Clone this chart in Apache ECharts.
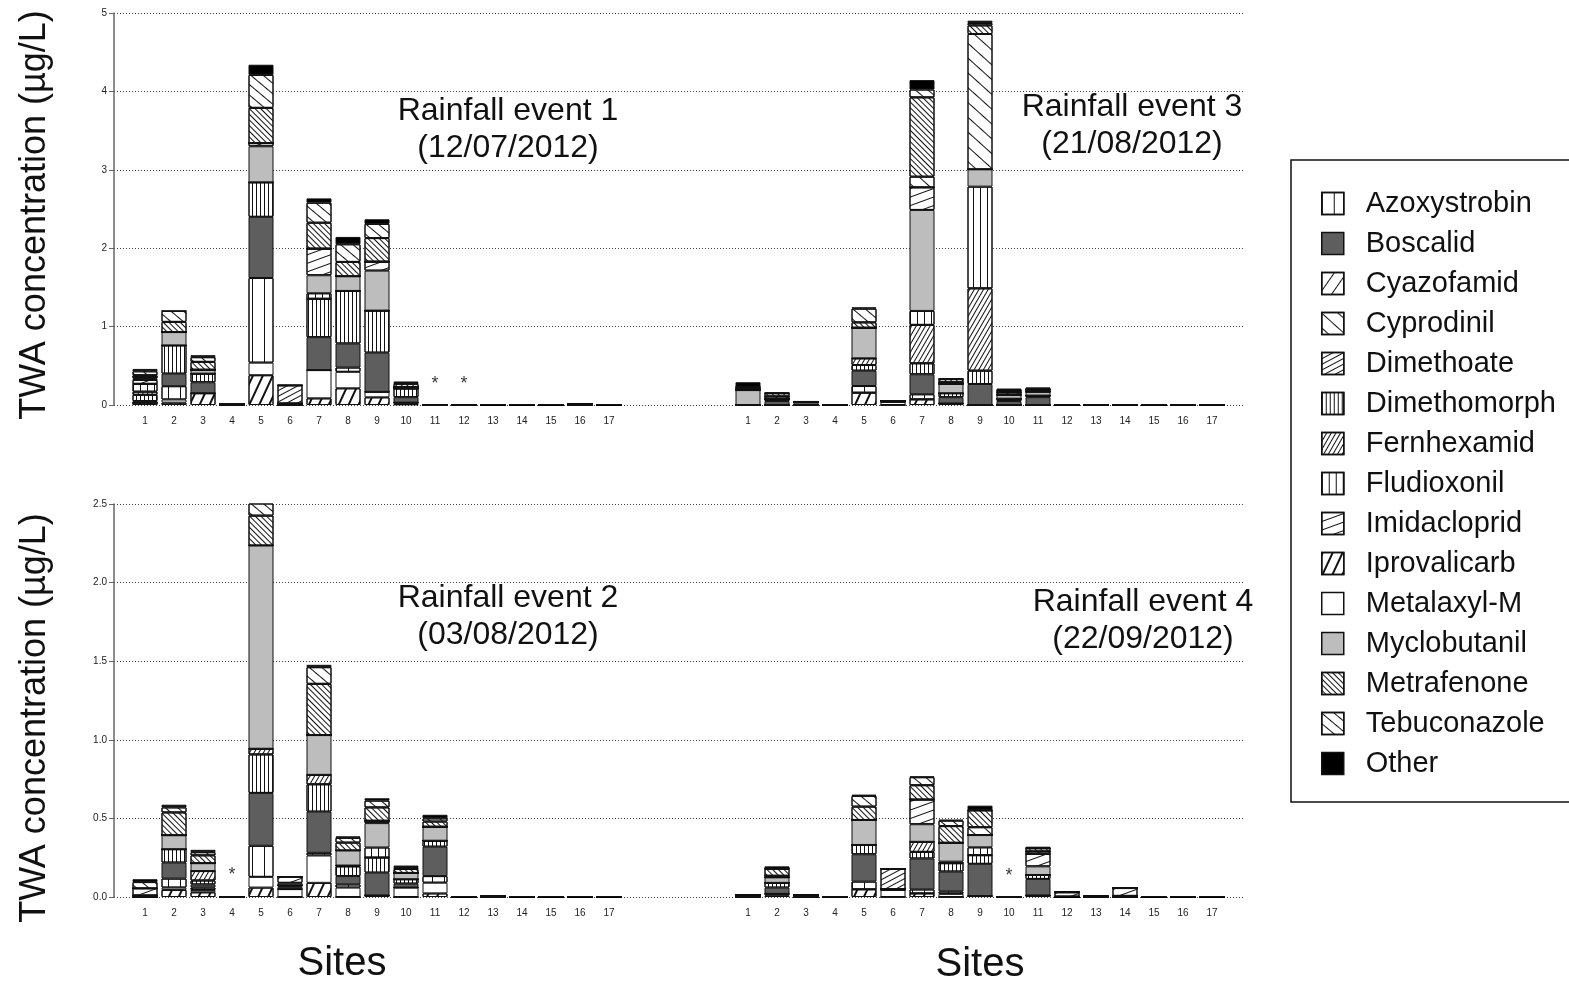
<!DOCTYPE html>
<html>
<head>
<meta charset="utf-8">
<script src="https://cdn.jsdelivr.net/npm/echarts@6/dist/echarts.min.js"></script>
<style>
html,body{margin:0;padding:0;background:#fff;}
#chart{width:1569px;height:983px;}
</style>
</head>
<body>
<div id="chart"></div>
<script>
// Sampling sites along the x axis
const sites = ['1','2','3','4','5','6','7','8','9','10','11','12','13','14','15','16','17'];

// Compounds in legend order
const compounds = ['Azoxystrobin','Boscalid','Cyazofamid','Cyprodinil','Dimethoate','Dimethomorph',
  'Fernhexamid','Fludioxonil','Imidacloprid','Iprovalicarb','Metalaxyl-M','Myclobutanil',
  'Metrafenone','Tebuconazole','Other'];

// Stacking order of the segments, bottom to top
const stackOrder = ['Iprovalicarb','Metalaxyl-M','Azoxystrobin','Boscalid','Dimethomorph','Fernhexamid',
  'Fludioxonil','Myclobutanil','Imidacloprid','Cyazofamid','Dimethoate','Cyprodinil',
  'Metrafenone','Tebuconazole','Other'];

// TWA concentrations (µg/L) per site - rainfall event 1 (12/07/2012)
const e1_Iprovalicarb = [0.03,0.03,0.15,0,0.38,0,0.085,0.213,0.098,0.01,0,0,0,0,0,0,0];
const e1_Metalaxyl    = [0,0.04,0,0,0.16,0,0.36,0.21,0.07,0.02,0,0,0,0,0,0,0];
const e1_Azoxystrobin = [0,0.17,0,0,1.08,0,0,0.055,0,0,0,0,0,0,0,0,0];
const e1_Boscalid     = [0.02,0.16,0.14,0.01,0.78,0.02,0.42,0.307,0.5,0.07,0,0,0.006,0.006,0.006,0.012,0.006];
const e1_Dimethomorph = [0.08,0.36,0.11,0,0.44,0,0.49,0.67,0.536,0.11,0,0,0,0,0,0,0];
const e1_Fernhexamid  = [0.04,0,0,0,0,0,0,0,0,0,0,0,0,0,0,0,0];
const e1_Fludioxonil  = [0.1,0,0,0,0,0,0.07,0,0,0,0,0,0,0,0,0,0];
const e1_Myclobutanil = [0,0.17,0.05,0,0.46,0,0.23,0.187,0.51,0.02,0,0,0,0,0,0,0];
const e1_Imidacloprid = [0.05,0,0,0,0.04,0,0.34,0,0.115,0,0,0,0,0,0,0,0];
const e1_Cyazofamid   = [0.02,0,0,0,0,0,0,0,0,0,0,0,0,0,0,0,0];
const e1_Dimethoate   = [0.02,0,0,0,0,0.23,0,0,0,0,0,0,0,0,0,0,0];
const e1_Cyprodinil   = [0,0,0,0,0,0,0,0,0,0,0,0,0,0,0,0,0];
const e1_Metrafenone  = [0.02,0.13,0.1,0,0.45,0,0.33,0.183,0.3,0.04,0,0,0,0,0,0,0];
const e1_Tebuconazole = [0.05,0.14,0.06,0,0.42,0,0.255,0.225,0.18,0.01,0,0,0,0,0,0,0];
const e1_Other        = [0.03,0,0.025,0,0.13,0,0.055,0.094,0.06,0.02,0,0,0,0,0,0,0];

// Rainfall event 2 (03/08/2012)
const e2_Iprovalicarb = [0,0.045,0.03,0,0.06,0,0.09,0,0.01,0,0.023,0,0,0,0,0,0];
const e2_Metalaxyl    = [0,0.015,0.015,0,0.068,0.05,0.174,0.06,0,0.06,0.068,0,0,0,0,0,0];
const e2_Azoxystrobin = [0,0.057,0.015,0,0.198,0,0.017,0.02,0,0,0.042,0,0,0,0,0,0];
const e2_Boscalid     = [0.01,0.102,0.02,0,0.336,0.015,0.262,0.053,0.145,0.025,0.187,0.003,0.008,0.003,0.003,0.003,0.003];
const e2_Dimethomorph = [0,0.085,0.025,0,0.245,0.01,0.174,0.062,0.096,0.028,0.038,0,0,0,0,0,0];
const e2_Fernhexamid  = [0,0,0.06,0,0.036,0,0.06,0.005,0,0,0,0,0,0,0,0,0];
const e2_Fludioxonil  = [0,0,0,0,0,0,0,0,0.064,0,0,0,0,0,0,0,0];
const e2_Myclobutanil = [0,0.089,0.05,0,1.293,0.015,0.253,0.096,0.155,0.04,0.089,0,0,0,0,0,0];
const e2_Imidacloprid = [0.045,0,0,0,0,0.04,0,0,0.015,0,0,0,0,0,0,0,0];
const e2_Cyazofamid   = [0,0,0,0,0,0,0,0,0,0,0,0,0,0,0,0,0];
const e2_Dimethoate   = [0,0,0,0,0,0,0,0,0,0,0,0,0,0,0,0,0];
const e2_Cyprodinil   = [0,0,0,0,0,0,0,0,0,0,0,0,0,0,0,0,0];
const e2_Metrafenone  = [0,0.145,0.05,0,0.19,0,0.326,0.05,0.085,0.025,0.033,0,0,0,0,0,0];
const e2_Tebuconazole = [0.04,0.032,0.02,0,0.089,0,0.106,0.03,0.043,0.012,0.02,0,0,0,0,0,0];
const e2_Other        = [0.018,0.017,0.015,0,0.017,0,0.015,0.01,0.015,0.01,0.023,0,0,0,0,0,0];

// Rainfall event 3 (21/08/2012)
const e3_Iprovalicarb = [0,0,0,0,0.157,0,0.072,0.02,0,0,0,0,0,0,0,0,0];
const e3_Metalaxyl    = [0,0,0,0,0,0.04,0,0,0,0,0,0,0,0,0,0,0];
const e3_Azoxystrobin = [0,0,0,0,0.085,0,0.065,0,0,0,0,0,0,0,0,0,0];
const e3_Boscalid     = [0,0.05,0.04,0.005,0.196,0.01,0.255,0.08,0.268,0.05,0.1,0.005,0.005,0.005,0.005,0.005,0.005];
const e3_Dimethomorph = [0,0.03,0,0,0.072,0,0.14,0.05,0.17,0.03,0.02,0,0,0,0,0,0];
const e3_Fernhexamid  = [0,0,0,0,0.085,0,0.49,0,1.05,0,0,0,0,0,0,0,0];
const e3_Fludioxonil  = [0,0,0,0,0,0,0.178,0,1.297,0,0,0,0,0,0,0,0];
const e3_Myclobutanil = [0.19,0,0,0,0.391,0,1.288,0.12,0.221,0.05,0.05,0,0,0,0,0,0];
const e3_Imidacloprid = [0,0,0,0,0,0,0.288,0,0,0,0,0,0,0,0,0,0];
const e3_Cyazofamid   = [0,0,0,0,0,0,0,0,0,0,0,0,0,0,0,0,0];
const e3_Dimethoate   = [0.02,0.03,0,0,0,0,0,0.02,0,0.03,0.02,0,0,0,0,0,0];
const e3_Cyprodinil   = [0,0,0,0,0,0,0.136,0,1.726,0,0,0,0,0,0,0,0];
const e3_Metrafenone  = [0.02,0.04,0,0,0.068,0,1.012,0.04,0.11,0.02,0.01,0,0,0,0,0,0];
const e3_Tebuconazole = [0,0,0,0,0.175,0,0.1,0,0.03,0,0,0,0,0,0,0,0];
const e3_Other        = [0.06,0.01,0.01,0,0.017,0,0.12,0.01,0.03,0.03,0.025,0,0,0,0,0,0];

// Rainfall event 4 (22/09/2012)
const e4_Iprovalicarb = [0,0.01,0,0,0.049,0,0.023,0,0.006,0,0.01,0,0,0,0,0,0];
const e4_Metalaxyl    = [0,0.01,0,0,0,0.045,0,0.02,0,0,0,0,0,0,0,0,0];
const e4_Azoxystrobin = [0,0,0,0,0.049,0,0.025,0.015,0,0,0,0,0,0,0,0,0];
const e4_Boscalid     = [0.012,0.04,0.011,0.002,0.174,0.005,0.197,0.127,0.205,0,0.105,0.003,0.004,0.007,0.003,0.003,0.003];
const e4_Dimethomorph = [0,0.03,0,0,0.059,0,0.042,0.053,0.055,0,0.025,0,0,0,0,0,0];
const e4_Fernhexamid  = [0,0,0,0,0,0,0.064,0,0,0,0,0,0,0,0,0,0];
const e4_Fludioxonil  = [0,0,0,0,0,0,0,0.01,0.05,0,0,0,0,0,0,0,0];
const e4_Myclobutanil = [0,0.035,0,0,0.159,0,0.112,0.12,0.078,0,0.055,0,0,0,0,0,0];
const e4_Imidacloprid = [0,0,0,0,0,0,0.157,0,0,0,0.08,0.027,0,0.05,0,0,0];
const e4_Cyazofamid   = [0,0,0,0,0,0,0,0,0,0,0,0,0,0,0,0,0];
const e4_Dimethoate   = [0,0.01,0,0,0,0.13,0,0,0,0,0.015,0,0,0,0,0,0];
const e4_Cyprodinil   = [0,0,0,0,0,0,0,0,0.05,0,0,0,0,0,0,0,0];
const e4_Metrafenone  = [0,0.045,0,0,0.085,0,0.091,0.106,0.107,0,0.02,0,0,0,0,0,0];
const e4_Tebuconazole = [0,0,0,0,0.068,0,0.051,0.035,0,0,0,0,0,0,0,0,0];
const e4_Other        = [0.005,0.015,0,0,0.008,0,0.005,0.005,0.03,0,0.01,0,0,0,0,0,0];

// Sites without a result, flagged with an asterisk
const e1_missing = ['11','12'];
const e2_missing = ['4'];
const e3_missing = [];
const e4_missing = ['10'];

// Y axis tick labels
const yTicksTop = ['0','1','2','3','4','5'];
const yTicksBottom = ['0.0','0.5','1.0','1.5','2.0','2.5'];

const eventTitles = [
  ['Rainfall event 1','(12/07/2012)'],
  ['Rainfall event 2','(03/08/2012)'],
  ['Rainfall event 3','(21/08/2012)'],
  ['Rainfall event 4','(22/09/2012)']
];

// ---- tables built from the arrays above ----
const eventTables = {
  1: {Iprovalicarb:e1_Iprovalicarb,'Metalaxyl-M':e1_Metalaxyl,Azoxystrobin:e1_Azoxystrobin,Boscalid:e1_Boscalid,
      Dimethomorph:e1_Dimethomorph,Fernhexamid:e1_Fernhexamid,Fludioxonil:e1_Fludioxonil,Myclobutanil:e1_Myclobutanil,
      Imidacloprid:e1_Imidacloprid,Cyazofamid:e1_Cyazofamid,Dimethoate:e1_Dimethoate,Cyprodinil:e1_Cyprodinil,
      Metrafenone:e1_Metrafenone,Tebuconazole:e1_Tebuconazole,Other:e1_Other},
  2: {Iprovalicarb:e2_Iprovalicarb,'Metalaxyl-M':e2_Metalaxyl,Azoxystrobin:e2_Azoxystrobin,Boscalid:e2_Boscalid,
      Dimethomorph:e2_Dimethomorph,Fernhexamid:e2_Fernhexamid,Fludioxonil:e2_Fludioxonil,Myclobutanil:e2_Myclobutanil,
      Imidacloprid:e2_Imidacloprid,Cyazofamid:e2_Cyazofamid,Dimethoate:e2_Dimethoate,Cyprodinil:e2_Cyprodinil,
      Metrafenone:e2_Metrafenone,Tebuconazole:e2_Tebuconazole,Other:e2_Other},
  3: {Iprovalicarb:e3_Iprovalicarb,'Metalaxyl-M':e3_Metalaxyl,Azoxystrobin:e3_Azoxystrobin,Boscalid:e3_Boscalid,
      Dimethomorph:e3_Dimethomorph,Fernhexamid:e3_Fernhexamid,Fludioxonil:e3_Fludioxonil,Myclobutanil:e3_Myclobutanil,
      Imidacloprid:e3_Imidacloprid,Cyazofamid:e3_Cyazofamid,Dimethoate:e3_Dimethoate,Cyprodinil:e3_Cyprodinil,
      Metrafenone:e3_Metrafenone,Tebuconazole:e3_Tebuconazole,Other:e3_Other},
  4: {Iprovalicarb:e4_Iprovalicarb,'Metalaxyl-M':e4_Metalaxyl,Azoxystrobin:e4_Azoxystrobin,Boscalid:e4_Boscalid,
      Dimethomorph:e4_Dimethomorph,Fernhexamid:e4_Fernhexamid,Fludioxonil:e4_Fludioxonil,Myclobutanil:e4_Myclobutanil,
      Imidacloprid:e4_Imidacloprid,Cyazofamid:e4_Cyazofamid,Dimethoate:e4_Dimethoate,Cyprodinil:e4_Cyprodinil,
      Metrafenone:e4_Metrafenone,Tebuconazole:e4_Tebuconazole,Other:e4_Other}
};
const missingTables = {1:e1_missing, 2:e2_missing, 3:e3_missing, 4:e4_missing};

// ---- fill styles: greys and line hatches ----
// angleDeg: visual slope of the hatch lines, counter-clockwise from horizontal
function hatch(angleDeg, gap, lw) {
  return {
    symbol: 'rect', symbolSize: 1,
    dashArrayX: [1, 0], dashArrayY: [lw || 1, gap],
    rotation: -angleDeg * Math.PI / 180,
    color: '#111'
  };
}
const fills = {
  'Azoxystrobin': {color:'#fff', decal: hatch(90, 11)},
  'Boscalid':     {color:'#5e5e5e'},
  'Cyazofamid':   {color:'#fff', decal: hatch(55, 9)},
  'Cyprodinil':   {color:'#fff', decal: hatch(-42, 10)},
  'Dimethoate':   {color:'#fff', decal: hatch(28, 3.5)},
  'Dimethomorph': {color:'#fff', decal: hatch(90, 2.6)},
  'Fernhexamid':  {color:'#fff', decal: hatch(60, 2.8)},
  'Fludioxonil':  {color:'#fff', decal: hatch(90, 6)},
  'Imidacloprid': {color:'#fff', decal: hatch(20, 7)},
  'Iprovalicarb': {color:'#fff', decal: hatch(65, 7, 1.2)},
  'Metalaxyl-M':  {color:'#fff'},
  'Myclobutanil': {color:'#bdbdbd'},
  'Metrafenone':  {color:'#fff', decal: hatch(-45, 2.4)},
  'Tebuconazole': {color:'#fff', decal: hatch(-40, 6.5)},
  'Other':        {color:'#000'}
};

// ---- layout ----
const FONT = "'Liberation Sans', Arial, sans-serif";
const rows = [
  {top: 13, height: 392, max: 5, ticks: yTicksTop},
  {top: 504, height: 393, max: 2.5, ticks: yTicksBottom}
];
// panel order: top-left event 1, top-right event 3, bottom-left event 2, bottom-right event 4
const panels = [
  {event: 1, row: 0, left: 130.5, starY: 0.27},
  {event: 3, row: 0, left: 733.5, starY: 0.27},
  {event: 2, row: 1, left: 130.5, starY: 0.14},
  {event: 4, row: 1, left: 733.5, starY: 0.135}
];

const grid = [], xAxis = [], yAxis = [], series = [];

panels.forEach((p, i) => {
  const r = rows[p.row];
  grid.push({left: p.left, top: r.top, width: 493, height: r.height, containLabel: false});
  xAxis.push({
    type: 'category', gridIndex: i, data: sites,
    axisLine: {show: false}, axisTick: {show: false}, splitLine: {show: false},
    axisLabel: {fontFamily: FONT, fontSize: 10, color: '#222', margin: 11}
  });
  yAxis.push({type: 'value', gridIndex: i, min: 0, max: r.max, show: false, splitLine: {show: false}});

  const table = eventTables[p.event];
  stackOrder.forEach(name => {
    const f = fills[name];
    series.push({
      type: 'bar', name: name, xAxisIndex: i, yAxisIndex: i, stack: 'ev' + p.event,
      barWidth: 25, data: table[name],
      itemStyle: Object.assign({borderColor: '#111', borderWidth: 1}, f.decal ? {color: f.color, decal: f.decal} : {color: f.color}),
      emphasis: {disabled: true}, z: 3
    });
  });
  // asterisks for sites without a result
  series.push({
    type: 'scatter', xAxisIndex: i, yAxisIndex: i, symbolSize: 1,
    itemStyle: {color: 'rgba(0,0,0,0)'}, silent: true, z: 4,
    data: missingTables[p.event].map(s => [s, p.starY]),
    label: {show: true, position: 'inside', formatter: '*', fontFamily: FONT, fontSize: 18, color: '#000'}
  });
});

// background grids carrying the y scale and dotted guide lines across both panels of a row
rows.forEach((r, j) => {
  const gi = panels.length + j;
  grid.push({left: 114, top: r.top, width: 1131, height: r.height});
  xAxis.push({type: 'value', gridIndex: gi, show: false, min: 0, max: 1, splitLine: {show: false}});
  yAxis.push({
    type: 'value', gridIndex: gi, min: 0, max: r.max, interval: r.max / 5,
    axisLine: {show: true, lineStyle: {color: '#666', width: 1.5}},
    axisTick: {show: true, length: 5, lineStyle: {color: '#666'}},
    axisLabel: {fontFamily: FONT, fontSize: 10, color: '#222', margin: 7,
      formatter: (v) => r.ticks[Math.round(v / (r.max / 5))]},
    splitLine: {show: true, lineStyle: {color: '#444', width: 1, type: [1, 2]}}
  });
});

// text elements
const graphic = [];
const titlePos = [[508, 111], [508, 598], [1132, 107], [1143, 602]];
eventTitles.forEach((t, k) => {
  const [cx, cy] = titlePos[k];
  graphic.push({type: 'text', x: cx, y: cy, style: {text: t[0], font: '32px ' + FONT, fill: '#111', align: 'center', verticalAlign: 'middle'}});
  graphic.push({type: 'text', x: cx, y: cy + 37, style: {text: t[1], font: '32px ' + FONT, fill: '#111', align: 'center', verticalAlign: 'middle'}});
});
[[35, 215], [35, 718]].forEach(([x, y]) => {
  graphic.push({type: 'text', x: x, y: y, rotation: Math.PI / 2,
    style: {text: 'TWA concentration (µg/L)', font: '36px ' + FONT, fill: '#111', align: 'center', verticalAlign: 'middle'}});
});
[[342, 964], [980, 965]].forEach(([x, y]) => {
  graphic.push({type: 'text', x: x, y: y, style: {text: 'Sites', font: '40px ' + FONT, fill: '#111', align: 'center', verticalAlign: 'middle'}});
});
graphic.push({type: 'rect', shape: {x: 1291, y: 160, width: 300, height: 642}, style: {fill: 'none', stroke: '#111', lineWidth: 1.5}, z: 0});

const chart = echarts.init(document.getElementById('chart'), null, {renderer: 'canvas'});
chart.setOption({
  animation: false,
  backgroundColor: '#fff',
  grid, xAxis, yAxis, series, graphic,
  tooltip: {show: false},
  legend: {
    orient: 'vertical', left: 1316, top: 184,
    data: compounds, selectedMode: false,
    icon: 'rect', itemWidth: 22, itemHeight: 22, itemGap: 11,
    itemStyle: {borderColor: '#111', borderWidth: 1.5},
    textStyle: {fontFamily: FONT, fontSize: 29, color: '#111', padding: [0, 0, 0, 17]}
  }
});
</script>
</body>
</html>
